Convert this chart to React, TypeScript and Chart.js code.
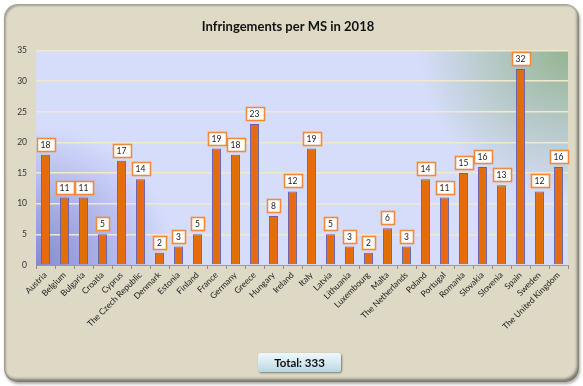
import React, { useEffect, useRef } from "react";
import { Chart, registerables } from "chart.js";

Chart.register(...registerables);

const TITLE = "Infringements per MS in 2018";
const countries = [
  "Austria", "Belgium", "Bulgaria", "Croatia", "Cyprus", "The Czech Republic",
  "Denmark", "Estonia", "Finland", "France", "Germany", "Greece", "Hungary",
  "Ireland", "Italy", "Latvia", "Lithuania", "Luxembourg", "Malta",
  "The Netherlands", "Poland", "Portugal", "Romania", "Slovakia", "Slovenia",
  "Spain", "Sweden", "The United Kingdom",
];
const infringements = [
  18, 11, 11, 5, 17, 14, 2, 3, 5, 19, 18, 23, 8, 12, 19, 5, 3, 2, 6, 3, 14, 11,
  15, 16, 13, 32, 12, 16,
];
const yTicks = [0, 5, 10, 15, 20, 25, 30, 35];
const TOTAL_LABEL = "Total: 333";

const FONT = "Lato, 'Open Sans', sans-serif";

const plotBackground = {
  id: "plotBackground",
  beforeDraw(chart: any) {
    const { ctx, chartArea: a } = chart;
    if (!a) return;
    ctx.save();
    ctx.fillStyle = "#d6ddfb";
    ctx.fillRect(a.left, a.top, a.right - a.left, a.bottom - a.top);
    const g1 = ctx.createRadialGradient(a.left, a.bottom, 0, a.left, a.bottom, 140);
    g1.addColorStop(0, "rgba(118,122,205,0.85)");
    g1.addColorStop(1, "rgba(118,122,205,0)");
    ctx.fillStyle = g1;
    ctx.fillRect(a.left, a.top, a.right - a.left, a.bottom - a.top);
    const g2 = ctx.createRadialGradient(a.right, a.top, 0, a.right, a.top, 150);
    g2.addColorStop(0, "rgba(145,178,140,0.95)");
    g2.addColorStop(1, "rgba(145,178,140,0)");
    ctx.fillStyle = g2;
    ctx.fillRect(a.left, a.top, a.right - a.left, a.bottom - a.top);
    ctx.restore();
  },
};

const valueLabels = {
  id: "valueLabels",
  afterDatasetsDraw(chart: any) {
    const { ctx } = chart;
    const meta = chart.getDatasetMeta(0);
    const data = chart.data.datasets[0].data;
    ctx.save();
    ctx.font = `8.5px ${FONT}`;
    ctx.textAlign = "center";
    ctx.textBaseline = "middle";
    meta.data.forEach((bar: any, i: number) => {
      const txt = String(data[i]);
      const tw = ctx.measureText(txt).width;
      const w = Math.round(tw + 8);
      const h = 13;
      const x = Math.round(bar.x - w / 2) + 0.5;
      const y = Math.round(bar.y - 4 - h) + 0.5;
      ctx.fillStyle = "#ffffff";
      ctx.fillRect(x, y, w, h);
      ctx.strokeStyle = "#f28a3a";
      ctx.lineWidth = 1.6;
      ctx.strokeRect(x, y, w, h);
      ctx.fillStyle = "#222";
      ctx.fillText(txt, bar.x, y + h / 2 + 0.5);
    });
    ctx.restore();
  },
};

export default function App() {
  const ref = useRef<HTMLCanvasElement | null>(null);

  useEffect(() => {
    document.body.style.margin = "0";
    const chart = new Chart(ref.current as HTMLCanvasElement, {
      type: "bar",
      data: {
        labels: countries,
        datasets: [
          {
            data: infringements,
            backgroundColor: "#e46c0a",
            borderColor: "#6c5ea6",
            borderWidth: 1,
            barPercentage: 0.47,
            categoryPercentage: 1,
          },
        ],
      },
      options: {
        animation: false,
        responsive: false,
        maintainAspectRatio: false,
        layout: { padding: { left: 8, right: 15, top: 0, bottom: 0 } },
        plugins: {
          legend: { display: false },
          tooltip: { enabled: false },
          title: {
            display: true,
            text: TITLE,
            color: "#111",
            font: { family: FONT, size: 13, weight: "bold" },
            padding: { top: 19, bottom: 16 },
          },
        },
        scales: {
          x: {
            offset: true,
            grid: {
              offset: true,
              drawOnChartArea: false,
              drawTicks: true,
              tickLength: 4,
              color: "#8c8c8c",
            },
            border: { display: true, color: "#9a9a9a", width: 1 },
            ticks: {
              autoSkip: false,
              maxRotation: 45,
              minRotation: 45,
              padding: 1,
              color: "#222",
              font: { family: FONT, size: 8.5 },
            },
            afterFit(scale: any) {
              scale.height = 121;
            },
          },
          y: {
            min: 0,
            max: 35,
            afterBuildTicks(scale: any) {
              scale.ticks = yTicks.map((v) => ({ value: v }));
            },
            grid: {
              drawTicks: false,
              lineWidth: 1.5,
              color: (c: any) => (c.tick && c.tick.value === 0 ? "rgba(0,0,0,0)" : "#f2e8cc"),
            },
            border: { display: false },
            ticks: {
              padding: 9,
              color: "#333",
              font: { family: FONT, size: 8.5 },
            },
            afterFit(scale: any) {
              scale.width = 28;
            },
          },
        },
      },
      plugins: [plotBackground, valueLabels],
    } as any);
    return () => chart.destroy();
  }, []);

  return (
    <div style={{ position: "fixed", left: 0, top: 0, width: 583, height: 386, background: "#fff" }}>
      <div
        style={{
          position: "absolute",
          left: 4,
          top: 4,
          width: 575,
          height: 378,
          borderRadius: 14,
          background: "linear-gradient(180deg, #dedac6 0%, #ddd9c4 100%)",
          boxShadow:
            "inset -2px -3px 3px rgba(0,0,0,0.45), inset 2px 2px 2px rgba(0,0,0,0.25), 1px 2px 3px rgba(0,0,0,0.35)",
        }}
      />
      <canvas ref={ref} width={583} height={386} style={{ position: "absolute", left: 0, top: 0 }} />
      <div
        style={{
          position: "absolute",
          left: 258,
          top: 353,
          width: 83,
          height: 19,
          borderRadius: 3,
          background: "linear-gradient(180deg, #eef8fb 0%, #d3e8f0 55%, #b9d6e2 100%)",
          boxShadow: "1px 1px 2px rgba(0,0,0,0.45)",
          fontFamily: FONT,
          fontWeight: "bold",
          fontSize: 11.5,
          color: "#111",
          display: "flex",
          alignItems: "center",
          justifyContent: "center",
        }}
      >
        {TOTAL_LABEL}
      </div>
    </div>
  );
}
